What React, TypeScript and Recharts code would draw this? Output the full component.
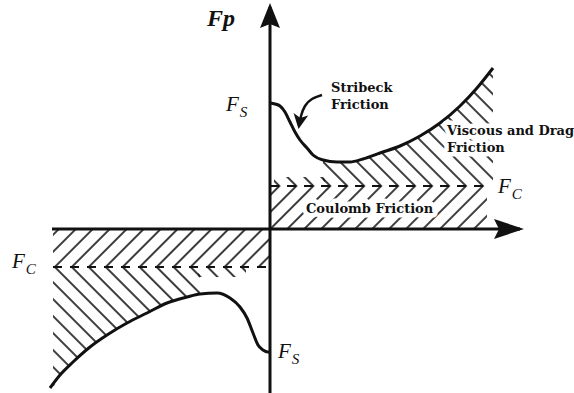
import { ComposedChart, Line, Area, XAxis, YAxis, ReferenceDot } from "recharts";

// velocity (x) and friction force (y), origin where the axes cross
const upperV = [0, 5, 10, 15, 20, 25, 30, 37, 43, 53, 67, 80, 93, 110, 130, 150, 170, 190, 207, 223];
const upperF = [126, 125, 123, 117, 107, 97, 89, 81, 74, 69, 67, 67, 70, 76, 83, 93, 106, 123, 141, 161];

const lowerV = [-220, -210, -197, -180, -163, -143, -123, -103, -83, -70, -53, -40, -30, -23, -17, -12, -7, -2, 0];
const lowerF = [-159, -146, -133, -118, -106, -94, -84, -74, -68, -65, -64, -69, -78, -89, -104, -116, -121, -123, -123];

const FC_UP = 43;
const FC_LO = -38;
const V_MIN = -217;
const V_MAX = 217;

// thin hatched strips just beside the Fc lines (near the axis)
const stripUpV = [4, 55];
const stripUpTop = 52;
const stripLoV = [-72, -24];
const stripLoBottom = -48;

// stribeck pointer
const arrowV = [52, 42, 35, 31, 29];
const arrowF = [134, 130, 123, 113, 103];

const xAxisLine = [{ x: -218, y: 0 }, { x: 250, y: 0 }];
const yAxisLine = [{ x: 0, y: -164 }, { x: 0, y: 222 }];

const X_DOMAIN = [-270, 304];
const Y_DOMAIN = [-164, 229];

const upperCurve = upperV.map((x, i) => ({ x, y: upperF[i] }));
const lowerCurve = lowerV.map((x, i) => ({ x, y: lowerF[i] }));
const arrowPts = arrowV.map((x, i) => ({ x, y: arrowF[i] }));

const coulombBand = [{ x: 0, band: [0, FC_UP] }, { x: V_MAX, band: [0, FC_UP] }];
const viscousBand = upperCurve.filter((p) => p.x >= 53).map((p) => ({ x: p.x, band: [FC_UP, p.y] }));
const stripUpBand = stripUpV.map((x) => ({ x, band: [FC_UP, stripUpTop] }));
const lowerCoulombBand = [{ x: V_MIN, band: [FC_LO, 0] }, { x: 0, band: [FC_LO, 0] }];
const lowerViscousBand = lowerCurve
  .filter((p) => p.x <= -70)
  .map((p) => ({ x: Math.max(p.x, V_MIN), band: [p.y, FC_LO] }));
const stripLoBand = stripLoV.map((x) => ({ x, band: [stripLoBottom, FC_LO] }));

const fcUpLine = [{ x: 0, y: FC_UP }, { x: V_MAX, y: FC_UP }];
const fcLoLine = [{ x: V_MIN, y: FC_LO }, { x: 0, y: FC_LO }];

const INK = "#111";
const SERIF = "'Liberation Serif', 'Times New Roman', serif";
const NOTE_FONT = "'DejaVu Serif', serif";

function SymLabel(props: any) {
  const { cx, cy, main, sub, size, bold } = props;
  return (
    <text x={cx} y={cy} fontFamily={SERIF} fontStyle="italic" fontWeight={bold ? 700 : 400}
      fontSize={size} fill={INK} stroke="#fff" strokeWidth={5} paintOrder="stroke" strokeLinejoin="round">
      {main}
      {sub ? <tspan dx={1} dy={6} fontSize={size * 0.72}>{sub}</tspan> : null}
    </text>
  );
}

function NoteLabel(props: any) {
  const { cx, cy, lines } = props;
  return (
    <text x={cx} y={cy} fontFamily={NOTE_FONT} fontWeight={700} fontSize={13} fill={INK}
      stroke="#fff" strokeWidth={9} paintOrder="stroke" strokeLinejoin="round">
      {lines.map((t: string, i: number) => (
        <tspan key={i} x={cx} dy={i === 0 ? 0 : 17}>{t}</tspan>
      ))}
    </text>
  );
}

function hatch(id: string, angle: number, shift: number) {
  return (
    <pattern id={id} patternUnits="userSpaceOnUse" width={12} height={12}
      patternTransform={`translate(${shift},0) rotate(${angle})`}>
      <line x1={6} y1={-2} x2={6} y2={14} stroke="#1a1a1a" strokeWidth={1.7} />
    </pattern>
  );
}

export default function App() {
  return (
    <div style={{ position: "absolute", left: 0, top: 0, width: 574, height: 393, background: "#fff" }}>
      <ComposedChart width={574} height={393} margin={{ top: 0, right: 0, bottom: 0, left: 0 }}>
        <defs>
          {hatch("slashUp", 45, 15.6)}
          {hatch("backUp", -45, 0)}
          {hatch("slashLo", 45, 7.9)}
          {hatch("backLo", -45, 0)}
          <marker id="arrowH" markerUnits="userSpaceOnUse" markerWidth={30} markerHeight={20}
            refX={26} refY={10} orient="auto" viewBox="0 0 30 20">
            <path d="M0,0 L30,10 L0,20 L5,10 Z" fill={INK} />
          </marker>
          <marker id="arrowV" markerUnits="userSpaceOnUse" markerWidth={25} markerHeight={20}
            refX={21} refY={10} orient="auto" viewBox="0 0 25 20">
            <path d="M0,0 L25,10 L0,20 L4,10 Z" fill={INK} />
          </marker>
          <marker id="arrowS" markerUnits="userSpaceOnUse" markerWidth={15} markerHeight={15}
            refX={12} refY={7.5} orient="auto" viewBox="0 0 15 15">
            <path d="M0,0 L15,7.5 L0,15 L4,7.5 Z" fill={INK} />
          </marker>
        </defs>
        <XAxis type="number" dataKey="x" domain={X_DOMAIN} allowDataOverflow hide />
        <YAxis type="number" domain={Y_DOMAIN} allowDataOverflow hide />

        <Area data={coulombBand} dataKey="band" type="linear" stroke="none" fill="url(#slashUp)" fillOpacity={1} isAnimationActive={false} />
        <Area data={viscousBand} dataKey="band" type="monotone" stroke="none" fill="url(#backUp)" fillOpacity={1} isAnimationActive={false} />
        <Area data={stripUpBand} dataKey="band" type="linear" stroke="none" fill="url(#backUp)" fillOpacity={1} isAnimationActive={false} />
        <Area data={lowerCoulombBand} dataKey="band" type="linear" stroke="none" fill="url(#slashLo)" fillOpacity={1} isAnimationActive={false} />
        <Area data={lowerViscousBand} dataKey="band" type="monotone" stroke="none" fill="url(#backLo)" fillOpacity={1} isAnimationActive={false} />
        <Area data={stripLoBand} dataKey="band" type="linear" stroke="none" fill="url(#backLo)" fillOpacity={1} isAnimationActive={false} />

        <Line data={fcUpLine} dataKey="y" type="linear" stroke={INK} strokeWidth={2} strokeDasharray="9 8" dot={false} activeDot={false} isAnimationActive={false} />
        <Line data={fcLoLine} dataKey="y" type="linear" stroke={INK} strokeWidth={2} strokeDasharray="9 8" dot={false} activeDot={false} isAnimationActive={false} />

        <Line data={xAxisLine} dataKey="y" type="linear" stroke={INK} strokeWidth={3} markerEnd="url(#arrowH)" dot={false} activeDot={false} isAnimationActive={false} />
        <Line data={yAxisLine} dataKey="y" type="linear" stroke={INK} strokeWidth={3} markerEnd="url(#arrowV)" dot={false} activeDot={false} isAnimationActive={false} />

        <Line data={upperCurve} dataKey="y" type="monotone" stroke={INK} strokeWidth={3} dot={false} activeDot={false} isAnimationActive={false} />
        <Line data={lowerCurve} dataKey="y" type="monotone" stroke={INK} strokeWidth={3} dot={false} activeDot={false} isAnimationActive={false} />
        <Line data={arrowPts} dataKey="y" type="natural" stroke={INK} strokeWidth={2.5} markerEnd="url(#arrowS)" dot={false} activeDot={false} isAnimationActive={false} />

        <ReferenceDot x={-63} y={203} r={0} shape={(p: any) => <SymLabel {...p} main="Fp" size={24} bold />} />
        <ReferenceDot x={-44} y={118} r={0} shape={(p: any) => <SymLabel {...p} main="F" sub="S" size={21} />} />
        <ReferenceDot x={228} y={36} r={0} shape={(p: any) => <SymLabel {...p} main="F" sub="C" size={21} />} />
        <ReferenceDot x={-258} y={-39} r={0} shape={(p: any) => <SymLabel {...p} main="F" sub="C" size={21} />} />
        <ReferenceDot x={8} y={-129} r={0} shape={(p: any) => <SymLabel {...p} main="F" sub="S" size={21} />} />

        <ReferenceDot x={61} y={137} r={0} shape={(p: any) => <NoteLabel {...p} lines={["Stribeck", "Friction"]} />} />
        <ReferenceDot x={177} y={94} r={0} shape={(p: any) => <NoteLabel {...p} lines={["Viscous and Drag", "Friction"]} />} />
        <ReferenceDot x={36} y={16} r={0} shape={(p: any) => <NoteLabel {...p} lines={["Coulomb Friction"]} />} />
      </ComposedChart>
    </div>
  );
}
